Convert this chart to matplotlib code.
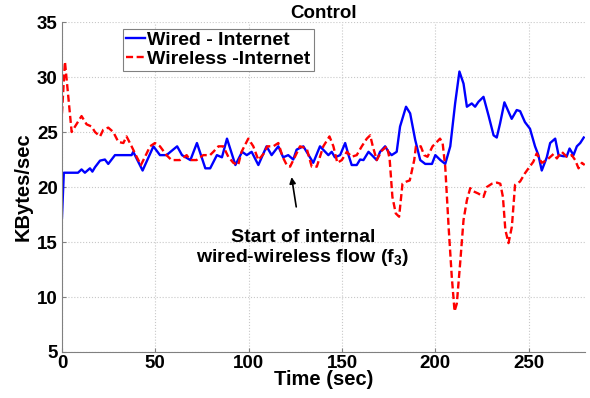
import matplotlib
matplotlib.use('Agg')
import matplotlib.pyplot as plt

plt.rcParams['font.family'] = ['Liberation Sans', 'DejaVu Sans']
plt.rcParams['font.weight'] = 'bold'
plt.rcParams['mathtext.fontset'] = 'custom'
plt.rcParams['mathtext.rm'] = 'Liberation Sans:bold'
plt.rcParams['mathtext.bf'] = 'Liberation Sans:bold'

# wired - internet throughput (KBytes/sec)
t_wired = [0, 1, 2.7, 8.6, 10.5, 12.3, 15, 16.3, 17.7, 20.4, 23, 24.8, 26.6, 28.4,
           37.3, 38.2, 43.2, 49, 52.5, 56, 61.7, 64.3, 68.8, 72.3, 76.8, 79.4, 83,
           85.7, 88.4, 92.9, 96.5, 99, 101.6, 105.2, 109.6, 112.3, 115.9, 118.5,
           121.2, 123.9, 125.7, 129.3, 134.6, 138.2, 142.7, 144.5, 146.2, 149,
           151.7, 153.5, 155.2, 157.9, 159.7, 161.5, 164.2, 166, 168.6, 170.4,
           173.1, 174.9, 176.6, 179.3, 181.1, 184.3, 186.5, 189.2, 191.9, 194.6,
           198.2, 200, 202.7, 205.3, 208, 210.6, 212.9, 215.1, 216.9, 219.5,
           221.3, 223.1, 225.8, 228.5, 231.2, 232.9, 234.7, 237, 240.9, 243.6,
           245.4, 248, 250.7, 253.4, 255.2, 257, 259.7, 261.5, 264.2, 266, 268.6,
           270.4, 271.9, 274, 275.8, 277.6, 279.5]
wired = [17.2, 21.3, 21.3, 21.3, 21.6, 21.3, 21.7, 21.4, 21.8, 22.4, 22.5, 22.1, 22.5, 22.9,
         22.9, 23.2, 21.5, 23.7, 22.9, 22.9, 23.7, 22.9, 22.45, 24.0, 21.7, 21.7, 22.9,
         22.7, 24.4, 22.0, 23.2, 22.9, 23.2, 22.0, 23.7, 22.9, 23.7, 22.7,
         22.9, 22.5, 23.4, 23.7, 22.2, 23.7, 22.9, 23.2, 22.7, 22.9,
         24.0, 22.9, 22.0, 22.0, 22.5, 22.45, 23.2, 22.9, 22.45, 23.2,
         23.7, 23.2, 22.9, 23.2, 25.5, 27.3, 26.7, 24.3, 22.45, 22.1,
         22.1, 22.9, 22.45, 22.1, 23.7, 27.6, 30.5, 29.4, 27.3, 27.6,
         27.3, 27.75, 28.2, 26.5, 24.7, 24.5, 25.8, 27.7, 26.2, 27.0,
         26.9, 25.9, 25.3, 23.7, 22.9, 21.5, 22.7, 24.0, 24.4, 22.9, 22.8,
         22.8, 23.5, 22.9, 23.7, 24.0, 24.5]

# wireless - internet throughput (KBytes/sec)
t_wireless = [0, 1.6, 2.9, 5.2, 7, 10.5, 13.2, 15.9, 17.7, 20.4, 22.1, 24.8, 27.5, 30.2,
              32.9, 34.6, 37.3, 40, 42.3, 44.5, 47.2, 49.8, 52.5, 56, 58.7, 63.2,
              66.8, 68.6, 72.1, 75.7, 79.3, 81.1, 83.8, 86.4, 89.1, 91.8, 94.4,
              96.2, 99.8, 102.5, 105.2, 107.9, 110, 113.2, 115.9, 118.2, 120.4,
              122.2, 124.8, 127.5, 131.1, 133.8, 136.5, 140, 143.3, 145.4, 147.5,
              149.9, 152.6, 155.2, 157.9, 160.6, 163.3, 165.1, 166.5, 168.6, 171.3,
              174, 175.5, 177, 178.8, 180.6, 182.4, 184.6, 186.3, 188.7, 189.6,
              192.2, 194, 195.8, 198.5, 200.3, 202.5, 203.9, 205.3, 207.1, 208.8,
              210.3, 211.5, 213.3, 215.1, 216.9, 218.7, 220.5, 223.1, 225.8, 227.6,
              230.3, 233, 234.8, 236.2, 237.5, 239.2, 241, 242.7, 245.4, 248, 249.9,
              252.5, 254.3, 257, 259.7, 263.3, 265.1, 267.7, 270.4, 273.1, 274.9,
              276.7, 278.5, 280]
wireless = [26.7, 31.4, 29.1, 25.0, 25.5, 26.45, 25.7, 25.5, 25.0, 24.6, 25.2, 25.4, 25.0, 24.1,
            24.0, 24.6, 23.7, 22.75, 22.0, 22.75, 23.7, 24.0, 23.7, 22.9, 22.45, 22.45,
            22.9, 22.45, 22.45, 22.9, 22.9, 23.2, 23.7, 23.7, 22.75, 22.2, 22.0,
            23.2, 24.4, 23.7, 22.45, 23.0, 23.7, 23.7, 24.0, 22.75, 22.0,
            21.85, 22.75, 23.7, 23.5, 21.85, 21.85, 23.7, 24.6, 23.7, 22.2,
            22.45, 23.2, 22.75, 22.9, 23.7, 24.4, 24.7, 23.7, 22.45, 23.3,
            23.7, 22.6, 19.1, 17.6, 17.3, 20.3, 20.5, 20.6, 22.45, 23.7,
            23.7, 22.9, 22.75, 23.7, 24.0, 24.4, 24.0, 21.85, 16.4, 11.85,
            8.7, 9.4, 13.1, 17.0, 18.8, 19.9, 19.6, 19.4, 19.1, 20.0,
            20.3, 20.4, 20.3, 19.1, 16.1, 14.9, 16.4, 20.2, 20.5, 21.25, 21.7,
            22.3, 23.06, 22.2, 22.45, 23.0, 22.6, 23.2, 22.75, 22.9, 22.45,
            21.7, 22.2, 22.0]

fig = plt.figure(figsize=(5.9, 3.98), dpi=100)
ax = fig.add_axes([0.105, 0.1156, 0.886, 0.829])

ax.plot(t_wired, wired, color='#0000ff', lw=1.7, label='Wired - Internet')
ax.plot(t_wireless, wireless, color='#ff0000', lw=1.7, ls=(0, (3, 1.5)),
        label='Wireless -Internet')

ax.set_xlim(0, 280)
ax.set_ylim(5, 35)
ax.set_xticks([0, 50, 100, 150, 200, 250])
ax.set_yticks([5, 10, 15, 20, 25, 30, 35])
ax.grid(True, ls=':', color='#c8c8c8', lw=0.8)
for s in ['top', 'right']:
    ax.spines[s].set_visible(False)
for s in ['left', 'bottom']:
    ax.spines[s].set_color('#808080')
ax.tick_params(direction='in', length=3, color='#808080', labelsize=13.5)
ax.tick_params(axis='x', pad=2)
ax.tick_params(axis='y', pad=3)

ax.set_xlabel('Time (sec)', fontsize=14.5, fontweight='bold', labelpad=-1)
ax.set_ylabel('KBytes/sec', fontsize=14.5, fontweight='bold', labelpad=3)
ax.set_title('Control', fontsize=13.5, fontweight='bold', pad=2)

leg = ax.legend(loc='upper left', bbox_to_anchor=(0.117, 0.98), fontsize=14,
                handlelength=1.0, handletextpad=0.1, borderpad=0.15,
                labelspacing=0.05, fancybox=False, framealpha=1, borderaxespad=0)
leg.get_frame().set_edgecolor('#808080')
leg.get_frame().set_linewidth(0.8)

ax.annotate('Start of internal\nwired-wireless flow (f$_3$)',
            xy=(123, 20.9), xytext=(129, 14.4), ha='center', va='center',
            fontsize=14, fontweight='bold', linespacing=1.1,
            arrowprops=dict(arrowstyle='-|>', color='black', lw=1.2,
                            mutation_scale=9, shrinkA=14, shrinkB=0))

fig.savefig('out.png', dpi=100)
